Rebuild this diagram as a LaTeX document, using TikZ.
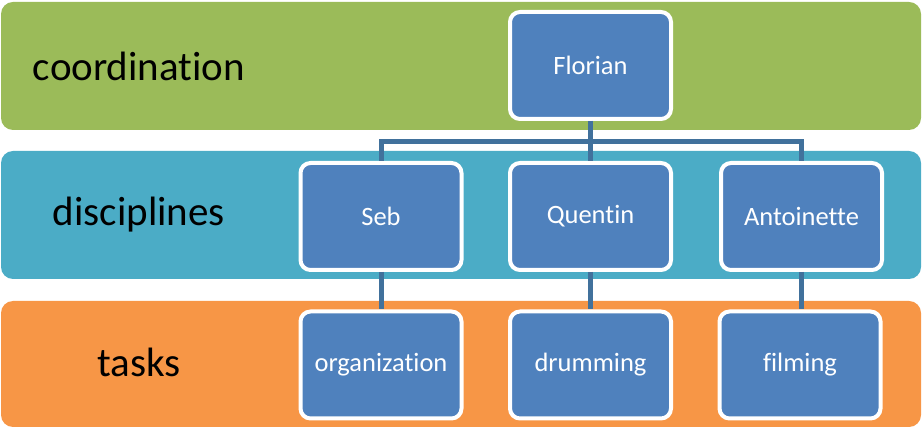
\documentclass[tikz,border=0pt]{standalone}
\usepackage{fontspec}
\setmainfont{Carlito}[Ligatures=NoCommon]
\usepackage{tikz}
\usetikzlibrary{positioning,calc}
\definecolor{bandgreen}{HTML}{9BBB59}
\definecolor{bandblue}{HTML}{4BACC6}
\definecolor{bandorange}{HTML}{F79646}
\definecolor{boxblue}{HTML}{4F81BD}
\definecolor{linkblue}{HTML}{41719C}

\begin{document}
\begin{tikzpicture}[
    x=1pt,
    y=1pt,
    band/.style={rounded corners=12pt},
    bandlabel/.style={inner sep=0pt, font=\fontsize{41}{49}\selectfont, text=black},
    person/.style={rectangle, rounded corners=10pt, draw=white, line width=4pt, fill=boxblue,
      minimum width=161pt, minimum height=107pt, text=white, font=\fontsize{26.5}{31}\selectfont},
    link/.style={draw=linkblue, line width=5pt}
  ]
    \useasboundingbox (0,0) rectangle (923,428);

    % bands
    \fill[band, bandgreen] (1,298) rectangle (921,426);
    \fill[band, bandblue] (1,149) rectangle (921,277);
    \fill[band, bandorange] (1,1) rectangle (921,127);

    \node[bandlabel] (coord) at (139,362) {coordination};
    \node[bandlabel] (disc) at (139,213) {disciplines};
    \node[bandlabel] (tasks) at (139,66) {tasks};

    % people
    \node[person] (flo) at (590.5,362.5) {Florian};
    \node[person] (seb) at (381,211.5) {Seb};
    \node[person] (quen) at (590.5,211.5) {Quentin};
    \node[person] (ant) at (801.5,211.5) {Antoinette};

    \node[person] (org) at (381,63) {organization};
    \node[person] (drum) at (590.5,63) {drumming};
    \node[person] (film) at (800,63) {filming};

    % links
    \coordinate (fork) at (590.5,286);
    \draw[link] (flo.south) -- (quen.north);
    \draw[link] (seb.north) |- (fork) -| (ant.north);
    \draw[link] (seb.south) -- (org.north);
    \draw[link] (quen.south) -- (drum.north);
    \draw[link] (ant.south) -- (ant.south |- film.north);
\end{tikzpicture}
\end{document}
